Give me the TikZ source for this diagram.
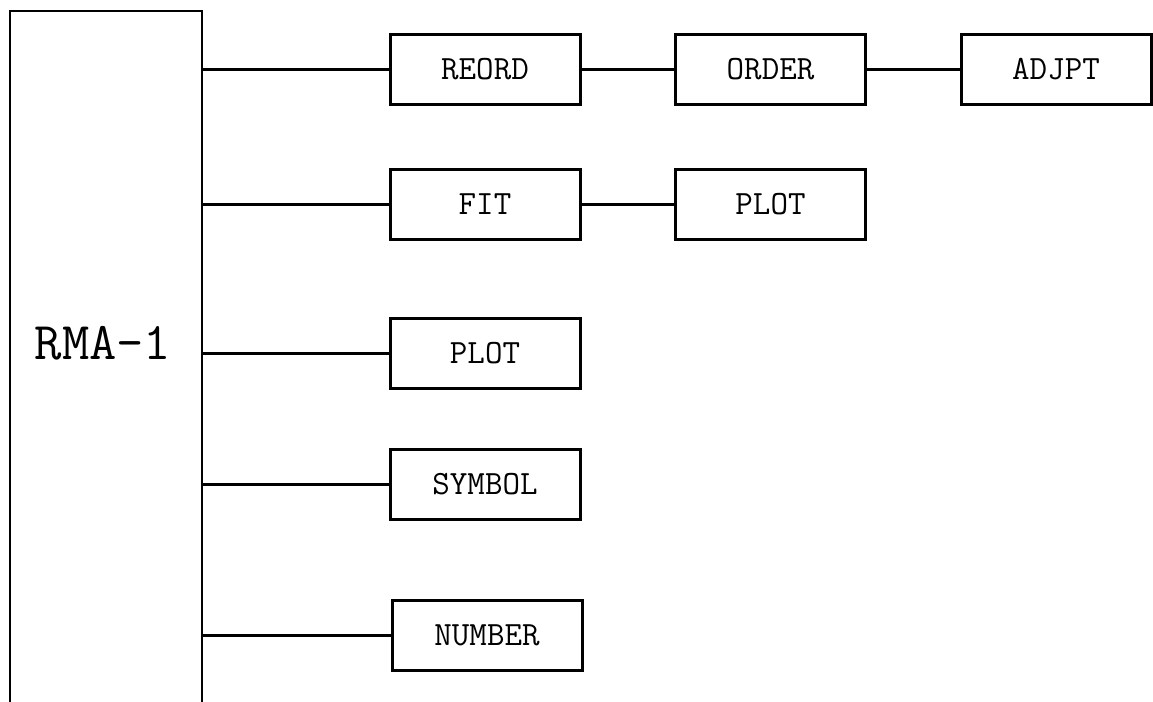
\documentclass[tikz,border=0pt]{standalone}
\usetikzlibrary{positioning}
\begin{document}
\begin{tikzpicture}[x=0.5pt,y=-0.5pt,
  module/.style={draw, line width=1.5pt, minimum width=95pt, minimum height=35pt,
    inner sep=0pt, font=\ttfamily\fontsize{17}{20}\selectfont},
  link/.style={line width=1.5pt}]
\useasboundingbox (0,0) rectangle (1153,702);
\clip (0,0) rectangle (1153,702);
% main program: its frame runs past the bottom edge
\node[draw, line width=1.2pt, minimum width=96pt, minimum height=360pt, inner sep=0pt,
  anchor=north west] (rma) at (9,10) {};
\node[font=\ttfamily\fontsize{26.5}{30}\selectfont] (rmalabel) at (103,343) {RMA-1};
% subroutines
\node[module] (reord)  at (485,69)    {REORD};
\node[module] (order)  at (770.5,69)  {ORDER};
\node[module] (adjpt)  at (1056,69)   {ADJPT};
\node[module] (fit)    at (485,204)   {FIT};
\node[module] (plota)  at (770.5,204) {PLOT};
\node[module] (plotb)  at (485,353)   {PLOT};
\node[module] (symbol) at (485,484)   {SYMBOL};
\node[module] (number) at (487,635)   {NUMBER};
% calls
\foreach \n in {reord,fit,plotb,symbol,number}
  \draw[link] (rma.east |- \n.west) -- (\n.west);
\draw[link] (reord) -- (order);
\draw[link] (order) -- (adjpt);
\draw[link] (fit) -- (plota);
\end{tikzpicture}
\end{document}
